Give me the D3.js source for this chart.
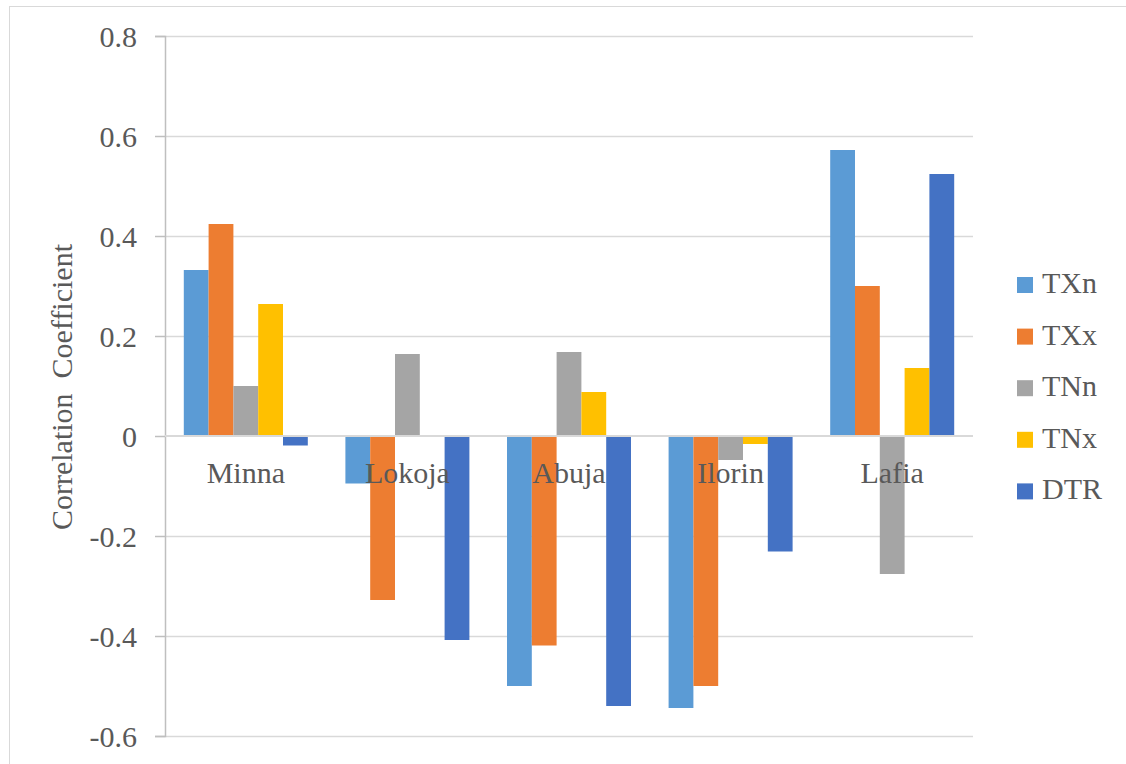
<!DOCTYPE html>
<html>
<head>
<meta charset="utf-8">
<script src="https://cdn.jsdelivr.net/npm/d3@7"></script>
<style>
  html, body { margin: 0; padding: 0; background: #fff; }
  svg { display: block; }
</style>
</head>
<body>
<svg id="chart" width="1126" height="764"></svg>
<script>
const categories = ["Minna", "Lokoja", "Abuja", "Ilorin", "Lafia"];
const seriesNames = ["TXn", "TXx", "TNn", "TNx", "DTR"];
const seriesColors = ["#5b9bd5", "#ed7d31", "#a5a5a5", "#ffc000", "#4472c4"];
const TXn = [0.332, -0.095, -0.500, -0.544, 0.572];
const TXx = [0.424, -0.328, -0.419, -0.500, 0.300];
const TNn = [0.100, 0.164, 0.168, -0.048, -0.276];
const TNx = [0.264, 0.000, 0.088, -0.016, 0.136];
const DTR = [-0.019, -0.408, -0.540, -0.231, 0.524];
const yTicks = [0.8, 0.6, 0.4, 0.2, 0, -0.2, -0.4, -0.6];
const yTickLabels = ["0.8", "0.6", "0.4", "0.2", "0", "-0.2", "-0.4", "-0.6"];
const yTitle = "Correlation  Coefficient";

const seriesValues = [TXn, TXx, TNn, TNx, DTR];
const FONT = "Liberation Serif";
const TEXT_COLOR = "#595959";

const svg = d3.select("#chart");

// outer chart border
svg.append("rect")
  .attr("x", 9.5).attr("y", 6.5)
  .attr("width", 1140).attr("height", 780)
  .attr("fill", "none").attr("stroke", "#d9d9d9").attr("stroke-width", 1);

const plotLeft = 165, plotRight = 973;
const y = d3.scaleLinear().domain([-0.6, 0.8]).range([736, 36]);
const x0 = d3.scaleBand().domain(categories).range([plotLeft, plotRight]).padding(0);
const x1 = d3.scaleBand().domain(seriesNames).range([0, x0.bandwidth()]).paddingInner(0).paddingOuter(0.758);

// gridlines
svg.append("g").selectAll("line")
  .data(yTicks.filter(t => t !== 0))
  .join("line")
  .attr("x1", plotLeft).attr("x2", plotRight)
  .attr("y1", d => Math.round(y(d)) + 0.5).attr("y2", d => Math.round(y(d)) + 0.5)
  .attr("stroke", "#d9d9d9").attr("stroke-width", 1.5);

// y axis
const yAxis = d3.axisLeft(y).tickValues(yTicks).tickSize(10).tickPadding(18)
  .tickFormat((d, i) => yTickLabels[i]);
const gy = svg.append("g").attr("transform", `translate(${plotLeft},0)`).call(yAxis);
gy.attr("font-family", FONT).attr("font-size", 30);
gy.select(".domain").attr("stroke", "#bfbfbf").attr("stroke-width", 1.5);
gy.selectAll(".tick line").attr("stroke", "#bfbfbf").attr("stroke-width", 1.5);
gy.selectAll(".tick text")
  .attr("font-family", FONT)
  .style("font-family", FONT)
  .attr("font-size", 30)
  .attr("fill", TEXT_COLOR)
  .attr("dy", "0.35em");

// bars
const groups = svg.append("g").selectAll("g")
  .data(categories)
  .join("g")
  .attr("transform", c => `translate(${x0(c)},0)`);

groups.selectAll("rect")
  .data((c, ci) => seriesNames.map((s, si) => ({ s, si, v: seriesValues[si][ci] })))
  .join("rect")
  .attr("x", d => x1(d.s))
  .attr("width", x1.bandwidth())
  .attr("y", d => y(Math.max(0, d.v)))
  .attr("height", d => Math.abs(y(d.v) - y(0)))
  .attr("fill", d => seriesColors[d.si]);

// zero line
svg.append("line")
  .attr("x1", plotLeft).attr("x2", plotRight)
  .attr("y1", y(0)).attr("y2", y(0))
  .attr("stroke", "#d9d9d9").attr("stroke-width", 2);

// category labels (drawn over bars)
svg.append("g").selectAll("text")
  .data(categories)
  .join("text")
  .attr("x", c => x0(c) + x0.bandwidth() / 2)
  .attr("y", 483)
  .attr("text-anchor", "middle")
  .attr("font-family", FONT)
  .style("font-family", FONT)
  .attr("font-size", 30)
  .attr("fill", TEXT_COLOR)
  .text(c => c);

// y title
svg.append("text")
  .attr("transform", `translate(72,387) rotate(-90)`)
  .attr("text-anchor", "middle")
  .attr("font-family", FONT)
  .style("font-family", FONT)
  .attr("font-size", 30)
  .style("white-space", "pre")
  .attr("fill", TEXT_COLOR)
  .text(yTitle);

// legend
const legend = svg.append("g").selectAll("g")
  .data(seriesNames)
  .join("g")
  .attr("transform", (s, i) => `translate(1017,${277 + i * 51.6})`);
legend.append("rect")
  .attr("width", 16).attr("height", 16)
  .attr("fill", (s, i) => seriesColors[i]);
legend.append("text")
  .attr("x", 25).attr("y", 16)
  .attr("font-family", FONT)
  .style("font-family", FONT)
  .attr("font-size", 30)
  .attr("fill", TEXT_COLOR)
  .text(s => s);
</script>
</body>
</html>
